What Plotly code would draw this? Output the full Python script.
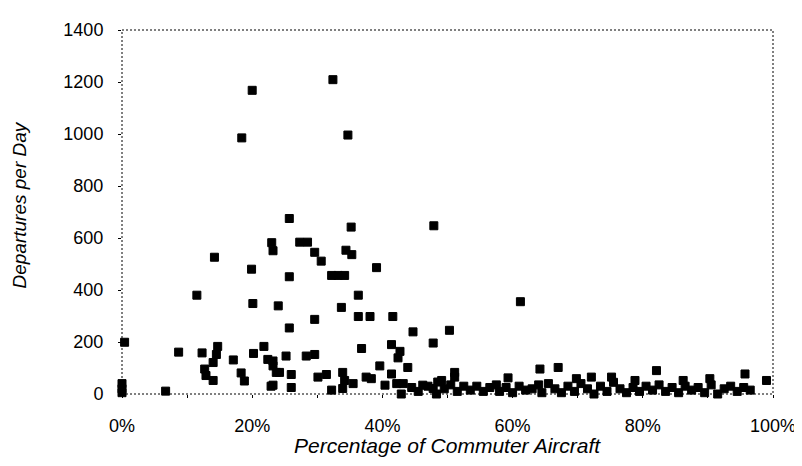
import plotly.graph_objects as go

# share of commuter aircraft (%) and daily departures
pct_commuter = [
    0, 0, 0, 0.4, 6.7, 8.7, 11.5, 12.3, 12.7, 12.9, 14.0, 14.0, 14.5, 14.7, 14.2,
    17.1, 18.3, 18.8, 18.4, 20.0, 19.9, 20.1, 20.2, 21.8, 22.4, 23.2, 23.7, 22.9,
    23.0, 23.2, 23.2, 23.2, 24.0, 24.2, 25.2, 25.7, 25.7, 25.7, 26.0, 26.0, 27.3,
    28.5, 28.3, 29.6, 29.6, 29.6, 30.1, 30.6, 31.4, 32.2, 33.2, 32.4, 32.2, 33.7,
    33.9, 33.9, 34.2, 34.2, 34.4, 34.7, 35.2, 35.3, 35.5, 36.3, 36.3, 38.1, 36.8,
    37.5, 38.3, 39.1, 39.6, 40.4, 41.4, 41.6, 41.4, 42.2, 42.4, 42.7, 43.2, 42.9,
    43.9, 44.7, 46.2, 47.8, 47.9, 47.8, 48.3, 48.5, 49.1, 50.3, 51.1, 51.1, 59.3,
    61.2, 64.2, 67.0, 69.8, 72.1, 75.2, 78.8, 82.1, 86.2, 90.3, 95.7, 99.0,
    # dense band near the bottom
    44.5, 45.5, 47.0, 49.5, 50.5, 51.5, 52.5, 53.5, 54.5, 55.5, 56.5, 57.5, 58.0,
    59.0, 60.0, 61.0, 62.0, 63.0, 64.0, 64.5, 65.5, 66.5, 67.5, 68.5, 69.5, 70.5,
    71.5, 72.5, 73.5, 74.5, 75.5, 76.5, 77.5, 78.5, 79.5, 80.5, 81.5, 82.5, 83.5,
    84.5, 85.5, 86.5, 87.5, 88.5, 89.5, 90.5, 91.5, 92.5, 93.5, 94.5, 95.5, 96.5,
]
departures = [
    40, 20, 5, 199, 11, 161, 380, 158, 96, 71, 52, 121, 152, 183, 526,
    131, 81, 50, 985, 1168, 480, 348, 156, 183, 133, 108, 83, 30,
    582, 551, 127, 34, 339, 83, 146, 675, 451, 254, 75, 25, 584,
    584, 146, 545, 287, 152, 65, 511, 75, 456, 456, 1209, 15, 333,
    83, 21, 456, 52, 553, 996, 642, 536, 40, 380, 298, 298, 175,
    65, 59, 486, 108, 34, 190, 298, 77, 40, 139, 164, 40, 0,
    102, 239, 34, 196, 647, 21, 0, 46, 52, 245, 83, 65, 62,
    355, 96, 102, 59, 65, 65, 52, 90, 52, 59, 77, 52,
    25, 10, 30, 20, 35, 10, 30, 15, 30, 10, 25, 35, 10,
    25, 5, 30, 15, 20, 35, 5, 40, 20, 5, 30, 10, 40,
    20, 0, 30, 10, 45, 20, 5, 25, 10, 30, 15, 35, 10,
    25, 5, 30, 15, 25, 5, 35, 0, 20, 30, 10, 25, 15,
]

x_ticks = [0, 20, 40, 60, 80, 100]
x_tick_labels = ["0%", "20%", "40%", "60%", "80%", "100%"]
y_ticks = [0, 200, 400, 600, 800, 1000, 1200, 1400]

FONT = "Liberation Sans, Arial, sans-serif"

fig = go.Figure()
fig.add_trace(go.Scatter(
    x=pct_commuter,
    y=departures,
    mode="markers",
    marker=dict(symbol="square", size=8, color="black",
                line=dict(color="black", width=1)),
    cliponaxis=False,
    showlegend=False,
))

# dotted frame around the plot area
fig.add_shape(type="rect", xref="paper", yref="paper", x0=0, y0=0, x1=1, y1=1,
              line=dict(color="black", width=1, dash="2px,2px"))

fig.update_xaxes(
    range=[0, 100], tickvals=x_ticks, ticktext=x_tick_labels,
    showgrid=False, zeroline=False, showline=False,
    ticks="outside", ticklen=3, tickcolor="black", ticklabelstandoff=12,
    minor=dict(dtick=10, ticks="outside", ticklen=3, tickcolor="black", showgrid=False),
    tickfont=dict(family=FONT, size=18, color="black"),
)
fig.update_yaxes(
    range=[0, 1400], tickvals=y_ticks,
    showgrid=False, zeroline=False, showline=False,
    ticks="outside", ticklen=3, tickcolor="black", ticklabelstandoff=11,
    tickfont=dict(family=FONT, size=18, color="black"),
)

# axis titles as annotations for exact placement
fig.add_annotation(text="Percentage of Commuter Aircraft", xref="paper", yref="paper",
                   x=0.5, y=-0.142, xanchor="center", yanchor="middle", showarrow=False,
                   font=dict(family=FONT, size=21, color="black", style="italic"))
fig.add_annotation(text="Departures per Day", xref="paper", yref="paper",
                   x=-0.157, y=0.52, xanchor="center", yanchor="middle",
                   textangle=-90, showarrow=False,
                   font=dict(family=FONT, size=19, color="black", style="italic"))

# the page body adds an 8px offset, so margins are shifted to compensate
fig.update_layout(
    width=802, height=466,
    margin=dict(l=114, r=37, t=12, b=80),
    plot_bgcolor="white", paper_bgcolor="white",
    font=dict(family=FONT, color="black"),
)

fig.write_html("out.html")
